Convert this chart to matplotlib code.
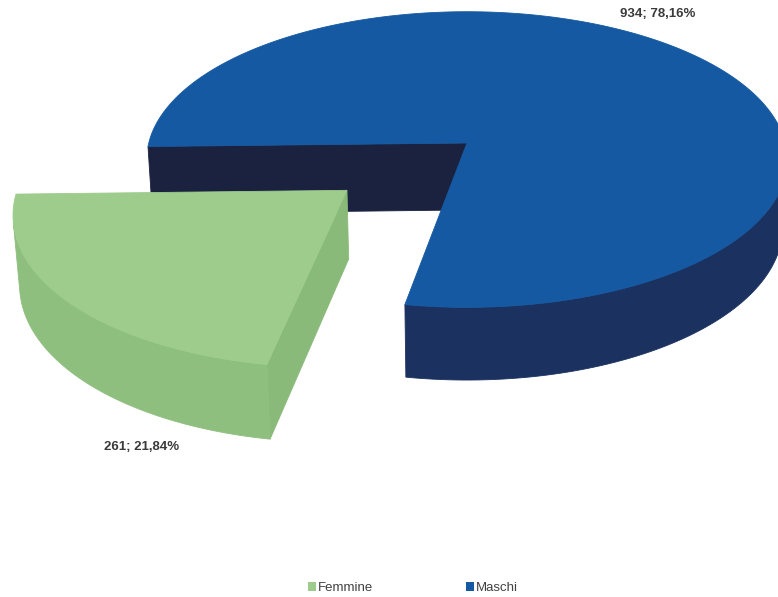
import numpy as np
import matplotlib.pyplot as plt
from matplotlib.patches import Polygon, Patch

labels = ['Femmine', 'Maschi']
values = [261, 934]
pct_labels = ['261; 21,84%', '934; 78,16%']

top_colors = ['#9dcc8c', '#1559a2']
side_colors = ['#8fbf7e', '#1b3260']
cut_colors = ['#8aba7a', '#1b223f']
explode = [0.48, 0.0]

# 3d look of the excel pie: simple perspective camera
elev = np.radians(27.3)
D = 7.95
F = 2530
h = 0.24
first_angle = 190   # angle of first slice, clockwise from 12 o'clock
cam = np.array([0.0, -D * np.cos(elev), D * np.sin(elev)])


def project(x, y, z):
    d = D + y * np.cos(elev) - z * np.sin(elev)
    return x * F / d, (y * np.sin(elev) + z * np.cos(elev)) * F / d


def visible(p, n):
    return np.dot(cam - p, n) > 0


def poly(ax, xs, ys, zs, color):
    sx, sy = project(np.asarray(xs), np.asarray(ys), np.asarray(zs))
    ax.add_patch(Polygon(np.column_stack([sx, sy]), closed=True,
                         facecolor=color, edgecolor=color, lw=0.6))


fig = plt.figure(figsize=(7.78, 5.97), dpi=100)
ax = fig.add_axes([0, 0, 1, 1])
ax.set_xlim(-467, 311)
ax.set_ylim(-454, 143)
ax.axis('off')

total = float(sum(values))
fracs = [v / total for v in values]
bounds = first_angle + 360 * np.concatenate([[0], np.cumsum(fracs)])

slices = []
for i in range(len(values)):
    a0, a1 = bounds[i], bounds[i + 1]
    mid = np.radians((a0 + a1) / 2)
    cx, cy = explode[i] * np.sin(mid), explode[i] * np.cos(mid)
    slices.append((cy, i, a0, a1, cx))

# far slices first
for cy, i, a0, a1, cx in sorted(slices, reverse=True):
    t = np.radians(np.linspace(a0, a1, 300))
    rx, ry = cx + np.sin(t), cy + np.cos(t)

    # radial cut faces
    for a, sgn in [(a0, -1), (a1, 1)]:
        ar = np.radians(a)
        n = sgn * np.array([np.cos(ar), -np.sin(ar), 0])
        p = np.array([cx + 0.5 * np.sin(ar), cy + 0.5 * np.cos(ar), -h / 2])
        if visible(p, n):
            ex, ey = cx + np.sin(ar), cy + np.cos(ar)
            poly(ax, [cx, ex, ex, cx], [cy, ey, ey, cy], [0, 0, -h, -h], cut_colors[i])

    # outer side, only the part facing the viewer
    vis = np.array([visible(np.array([x, y, -h / 2]), np.array([np.sin(a), np.cos(a), 0]))
                    for x, y, a in zip(rx, ry, t)])
    idx = np.where(vis)[0]
    if len(idx) > 1:
        runs = np.split(idx, np.where(np.diff(idx) > 1)[0] + 1)
        for r in runs:
            xs = np.concatenate([rx[r], rx[r][::-1]])
            ys = np.concatenate([ry[r], ry[r][::-1]])
            zs = np.concatenate([np.zeros(len(r)), -h * np.ones(len(r))])
            poly(ax, xs, ys, zs, side_colors[i])

    # top face
    poly(ax, np.concatenate([[cx], rx]), np.concatenate([[cy], ry]),
         np.zeros(len(rx) + 1), top_colors[i])

ax.text(-325, -304, pct_labels[0], ha='center', va='center', fontsize=9.5,
        fontweight='bold', color='#3a3a3a', family='Liberation Sans')
ax.text(191, 129, pct_labels[1], ha='center', va='center', fontsize=9.5,
        fontweight='bold', color='#3a3a3a', family='Liberation Sans')

handles = [Patch(facecolor=top_colors[0]), Patch(facecolor=top_colors[1])]
fig.legend(handles, labels, loc='lower center', bbox_to_anchor=(0.531, -0.015), ncol=2,
           frameon=False, handlelength=0.6, handleheight=0.6, handletextpad=0.15,
           columnspacing=7.0, prop={'family': 'Liberation Sans', 'size': 9.5},
           labelcolor='#404040')

fig.savefig('out.png', dpi=100)
